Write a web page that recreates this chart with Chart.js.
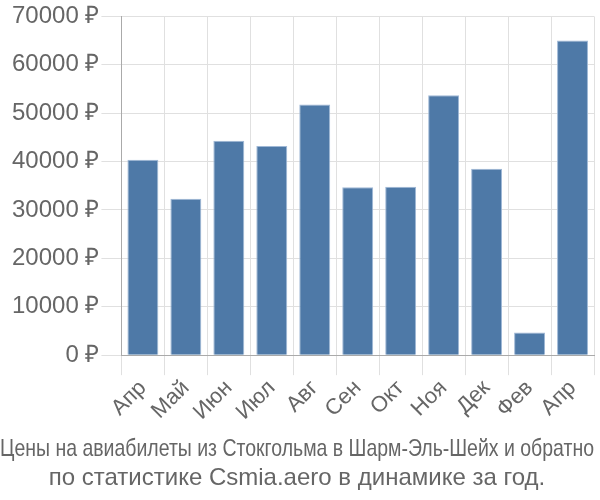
<!DOCTYPE html>
<html>
<head>
<meta charset="utf-8">
<script src="https://cdn.jsdelivr.net/npm/chart.js@4/dist/chart.umd.min.js"></script>
<style>
  body { margin: 0; background: #fff; }
  #wrap { width: 600px; height: 500px; }
</style>
</head>
<body>
<div id="wrap"><canvas id="chart"></canvas></div>
<script>
const months = ['Апр', 'Май', 'Июн', 'Июл', 'Авг', 'Сен', 'Окт', 'Ноя', 'Дек', 'Фев', 'Апр'];
const prices = [40400, 32300, 44300, 43200, 51800, 34700, 34800, 53700, 38500, 4700, 65000];
const titleLines = [
    'Цены на авиабилеты из Стокгольма в Шарм-Эль-Шейх и обратно',
    'по статистике Csmia.aero в динамике за год.'
];

Chart.defaults.font.family = '"Liberation Sans", Arial, sans-serif';
Chart.defaults.color = '#666';

const ctx = document.getElementById('chart').getContext('2d');
new Chart(ctx, {
    type: 'bar',
    data: {
        labels: months,
        datasets: [{
            data: prices,
            backgroundColor: '#4e79a7',
            borderColor: '#9fb8d6',
            borderWidth: 1
        }]
    },
    options: {
        responsive: true,
        maintainAspectRatio: false,
        animation: false,
        layout: { padding: { right: 6, top: 2 } },
        plugins: {
            legend: { display: false },
            tooltip: { enabled: false },
            title: {
                display: true,
                position: 'bottom',
                text: titleLines,
                color: '#666',
                font: { size: 24, weight: 'normal', lineHeight: 1.2 },
                padding: { top: 10, bottom: 7 }
            }
        },
        scales: {
            x: {
                grid: { color: '#e0e0e0', lineWidth: 1, tickLength: 20, offset: true },
                border: { color: '#aaa' },
                ticks: { font: { size: 22 }, maxRotation: 45, minRotation: 45, color: '#666', padding: 0 }
            },
            y: {
                min: 0,
                max: 70000,
                grid: { color: '#e0e0e0', lineWidth: 1, tickLength: 20 },
                border: { color: '#aaa' },
                afterFit: function (scale) {
                    scale.width += 10;
                },
                ticks: {
                    stepSize: 10000,
                    font: { size: 24 },
                    color: '#666',
                    padding: 2,
                    callback: function (value) {
                        return value + ' ₽';
                    }
                }
            }
        }
    }
});
</script>
</body>
</html>
